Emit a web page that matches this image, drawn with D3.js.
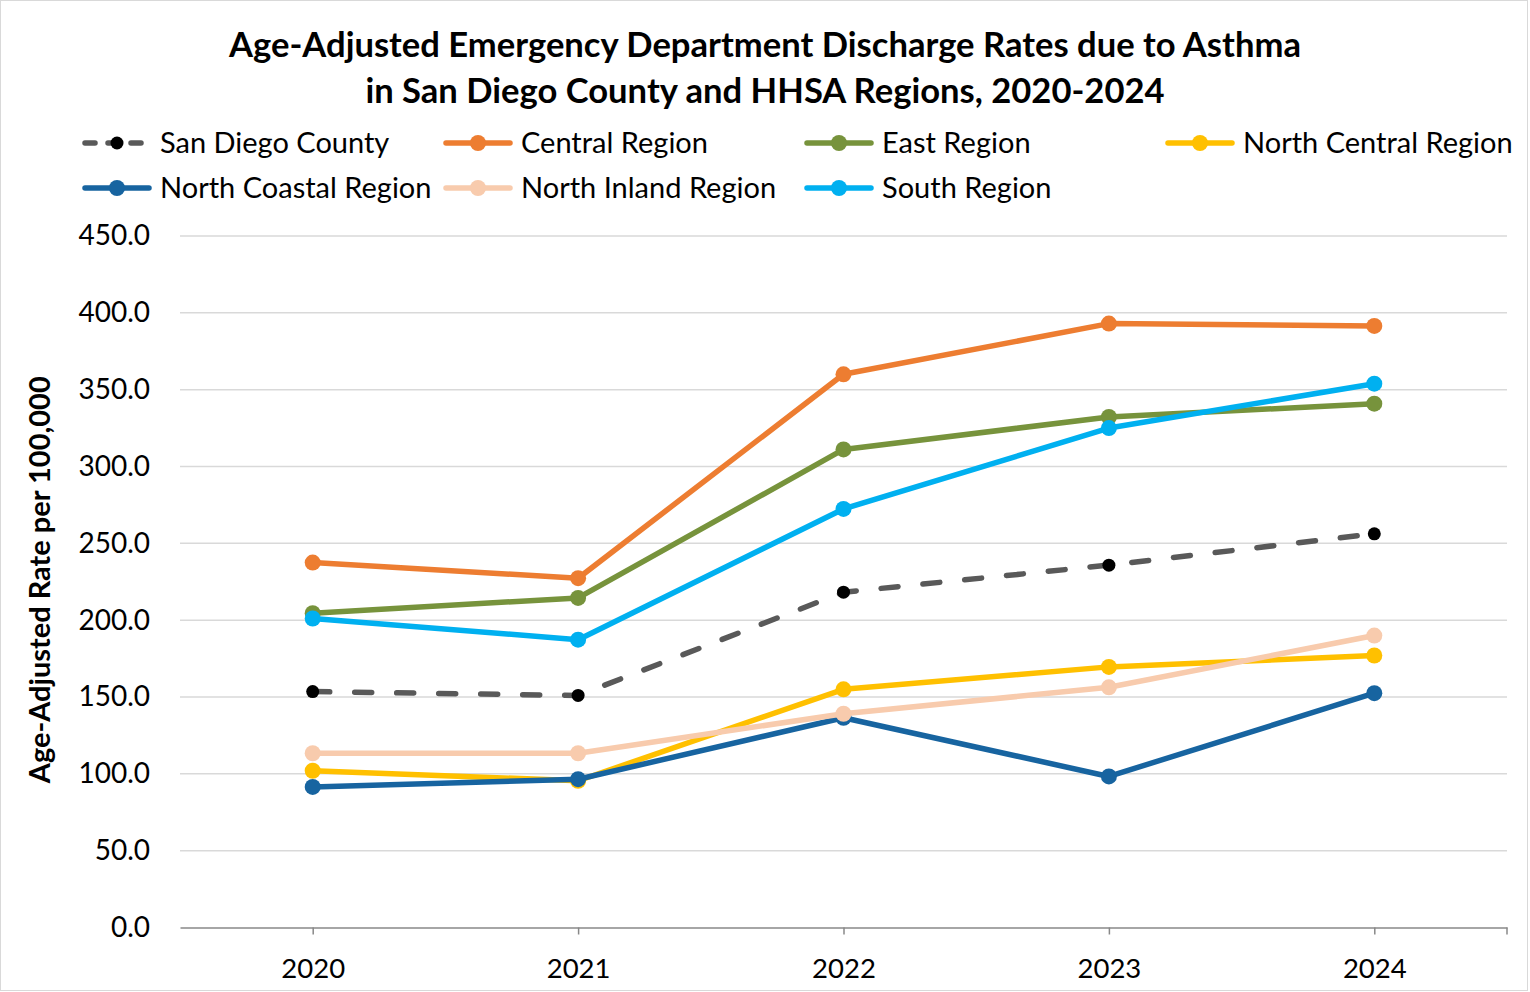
<!DOCTYPE html>
<html>
<head>
<meta charset="utf-8">
<script src="https://cdn.jsdelivr.net/npm/d3@7"></script>
<style>
  body { margin: 0; background: #fff; }
  text { font-family: Lato, "Open Sans", sans-serif; fill: #000; }
</style>
</head>
<body>
<div id="canvas"></div>
<script>
const years = ["2020", "2021", "2022", "2023", "2024"];
const seriesNames = ["San Diego County", "Central Region", "East Region", "North Central Region",
  "North Coastal Region", "North Inland Region", "South Region"];
const sanDiegoCounty = [153.5, 151.0, 218.2, 235.8, 256.2];
const centralRegion = [237.5, 227.3, 360.0, 393.0, 391.5];
const eastRegion = [204.5, 214.5, 311.1, 332.2, 340.9];
const northCentralRegion = [102.0, 95.5, 155.0, 169.6, 177.0];
const northCoastalRegion = [91.5, 96.5, 136.5, 98.3, 152.5];
const northInlandRegion = [113.4, 113.4, 139.1, 156.3, 190.0];
const southRegion = [201.1, 187.3, 272.4, 325.0, 353.9];
const yTicks = [0, 50, 100, 150, 200, 250, 300, 350, 400, 450];

const seriesValues = [sanDiegoCounty, centralRegion, eastRegion, northCentralRegion,
  northCoastalRegion, northInlandRegion, southRegion];
const colors = ["#595959", "#ED7D31", "#77933C", "#FFC000", "#1764A0", "#F8CBAD", "#00B0F0"];

const W = 1530, H = 992;
const margin = { top: 236, right: 23, bottom: 64.5, left: 180 },
    width = W - margin.left - margin.right,
    height = H - margin.top - margin.bottom;

const root = d3.select("#canvas")
    .append("svg")
    .attr("width", W)
    .attr("height", H);

root.append("rect")
    .attr("x", 0.5).attr("y", 0.5)
    .attr("width", W - 3).attr("height", H - 2)
    .attr("fill", "#fff")
    .attr("stroke", "#d9d9d9");

// title
root.append("text")
    .attr("x", 765).attr("y", 57)
    .attr("text-anchor", "middle")
    .attr("font-size", 34.6).attr("font-weight", "bold")
    .text("Age-Adjusted Emergency Department Discharge Rates due to Asthma");
root.append("text")
    .attr("x", 765).attr("y", 103)
    .attr("text-anchor", "middle")
    .attr("font-size", 34.6).attr("font-weight", "bold")
    .text("in San Diego County and HHSA Regions, 2020-2024");

const svg = root.append("g")
    .attr("transform", `translate(${margin.left},${margin.top})`);

const x = d3.scalePoint()
    .domain(years)
    .range([0, width])
    .padding(0.5);

const y = d3.scaleLinear()
    .domain([0, 450])
    .range([height, 0]);

// gridlines
svg.append("g")
    .selectAll("line")
    .data(yTicks.slice(1))
    .join("line")
    .attr("x1", 0).attr("x2", width)
    .attr("y1", d => y(d)).attr("y2", d => y(d))
    .attr("stroke", "#d9d9d9")
    .attr("stroke-width", 1.5);

// y axis labels
const yAxis = svg.append("g")
    .call(d3.axisLeft(y).tickValues(yTicks).tickFormat(d3.format(".1f")).tickSize(0).tickPadding(30));
yAxis.select(".domain").remove();
yAxis.selectAll("text")
    .attr("font-size", 28)
    .attr("font-family", "Lato, sans-serif")
    .attr("fill", "#000");

// x axis
const xAxis = svg.append("g")
    .attr("transform", `translate(0,${height})`)
    .call(d3.axisBottom(x).tickSizeInner(7).tickSizeOuter(0).tickPadding(24));
xAxis.select(".domain").attr("stroke", "#888").attr("stroke-width", 1.5);
xAxis.selectAll(".tick line").attr("stroke", "#888").attr("stroke-width", 1.5);
xAxis.append("line")
    .attr("x1", width).attr("x2", width)
    .attr("y1", 0).attr("y2", 7)
    .attr("stroke", "#888").attr("stroke-width", 1.5);
xAxis.selectAll("text")
    .attr("font-size", 27.5)
    .attr("font-family", "Lato, sans-serif")
    .attr("fill", "#000");

// y axis title
root.append("text")
    .attr("transform", `translate(50,${margin.top + height / 2 - 2}) rotate(-90)`)
    .attr("text-anchor", "middle")
    .attr("font-size", 29).attr("font-weight", "bold")
    .text("Age-Adjusted Rate per 100,000");

const line = d3.line()
    .x((d, i) => x(years[i]))
    .y(d => y(d));

seriesValues.forEach((vals, si) => {
    const g = svg.append("g");
    g.append("path")
        .datum(vals)
        .attr("fill", "none")
        .attr("stroke", colors[si])
        .attr("stroke-width", 5.5)
        .attr("stroke-linejoin", "round")
        .attr("stroke-linecap", "round")
        .attr("stroke-dasharray", si === 0 ? "17 25" : null)
        .attr("d", line);
    g.selectAll("circle")
        .data(vals)
        .join("circle")
        .attr("cx", (d, i) => x(years[i]))
        .attr("cy", d => y(d))
        .attr("r", si === 0 ? 6.5 : 8)
        .attr("fill", si === 0 ? "#000" : colors[si]);
});

// legend
const legendCols = [82, 443, 804, 1165];
const legend = root.append("g");
seriesNames.forEach((name, i) => {
    const lx = legendCols[i % 4], ly = i < 4 ? 143 : 188;
    const item = legend.append("g").attr("transform", `translate(${lx},${ly})`);
    item.append("line")
        .attr("x1", 3).attr("x2", 67)
        .attr("stroke", colors[i])
        .attr("stroke-width", 5.5)
        .attr("stroke-linecap", "round")
        .attr("stroke-dasharray", i === 0 ? "10 13" : null);
    item.append("circle")
        .attr("cx", 35).attr("r", i === 0 ? 6.5 : 8)
        .attr("fill", i === 0 ? "#000" : colors[i]);
    item.append("text")
        .attr("x", 78).attr("y", 10)
        .attr("font-size", 29)
        .text(name);
});
</script>
</body>
</html>
